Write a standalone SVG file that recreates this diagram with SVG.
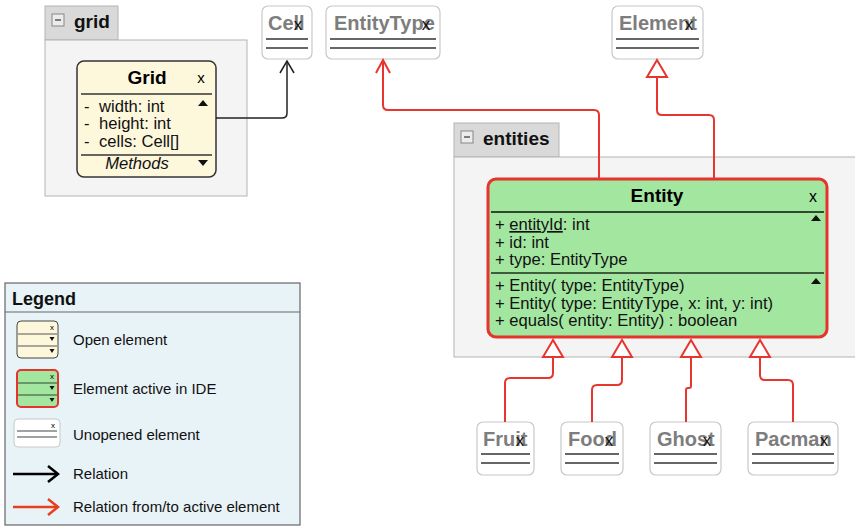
<svg xmlns="http://www.w3.org/2000/svg" width="855" height="526" viewBox="0 0 855 526">
<style>
text{font-family:"Liberation Sans",Arial,sans-serif;}
.pkg{fill:#f4f4f4;stroke:#b4b4b4;stroke-width:1;}
.tab{fill:#d9d9d9;stroke:#b4b4b4;stroke-width:1;}
.tabtxt{font-size:19px;font-weight:bold;fill:#111;}
.minus{fill:#ececec;stroke:#888;stroke-width:1;}
.un{fill:#fff;stroke:#c8c8c8;stroke-width:1.2;}
.unl{stroke:#333;stroke-width:1.5;}
.unt{font-size:20px;font-weight:bold;fill:#7d7d7d;}
.ux{font-size:17px;fill:#111;text-anchor:middle;}
.mem{font-size:16.6px;fill:#111;}
.red{fill:none;stroke:#e8352e;stroke-width:2;}
.blk{fill:none;stroke:#222;stroke-width:1.5;}
.leg{font-size:15px;fill:#111;}
.tri{fill:#111;}
</style>
<defs>
<marker id="openB" viewBox="0 0 14 16" refX="13" refY="8" markerWidth="14" markerHeight="16" markerUnits="userSpaceOnUse" orient="auto">
<path d="M1 1 L13 8 L1 15" fill="none" stroke="#222" stroke-width="1.5"/>
</marker>
<marker id="openR" viewBox="0 0 16 16" refX="14" refY="8" markerWidth="16" markerHeight="16" markerUnits="userSpaceOnUse" orient="auto">
<path d="M1 1 L14 8 L1 15" fill="none" stroke="#e8352e" stroke-width="2"/>
</marker>
</defs>

<!-- package grid -->
<g id="pkg-grid">
<rect class="tab" x="45" y="6" width="73" height="34"/>
<rect class="pkg" x="45" y="40" width="202" height="156"/>
<rect class="minus" x="52" y="14" width="12" height="12"/>
<line x1="55" y1="20" x2="61" y2="20" stroke="#333" stroke-width="1.2"/>
<text class="tabtxt" x="74" y="28">grid</text>
</g>

<!-- package entities -->
<g id="pkg-entities">
<rect class="tab" x="454" y="123" width="105" height="34"/>
<rect class="pkg" x="454" y="157" width="410" height="200"/>
<rect class="minus" x="461" y="131" width="12" height="12"/>
<line x1="464" y1="137" x2="470" y2="137" stroke="#333" stroke-width="1.2"/>
<text class="tabtxt" x="483" y="145">entities</text>
</g>

<!-- Grid class -->
<g id="Grid">
<rect x="77" y="61" width="139" height="116" rx="7" fill="#fdf8dc" stroke="#333" stroke-width="1.5"/>
<text x="147" y="84" font-size="19" font-weight="bold" text-anchor="middle">Grid</text>
<text x="201" y="83" font-size="15" text-anchor="middle">x</text>
<line x1="81" y1="94" x2="212" y2="94" stroke="#333" stroke-width="1.5"/>
<text class="mem" x="84" y="112">-</text><text class="mem" x="99" y="112">width: int</text>
<text class="mem" x="84" y="129">-</text><text class="mem" x="99" y="129">height: int</text>
<text class="mem" x="84" y="147">-</text><text class="mem" x="99" y="147">cells: Cell[]</text>
<path class="tri" d="M198 106 L208 106 L203 100 Z"/>
<line x1="81" y1="155" x2="212" y2="155" stroke="#333" stroke-width="1.5"/>
<text class="mem" x="137" y="169" font-style="italic" text-anchor="middle">Methods</text>
<path class="tri" d="M198 160 L208 160 L203 166 Z"/>
</g>

<!-- Unopened elements -->
<g id="Cell">
<rect class="un" x="262" y="6" width="50" height="53" rx="6"/>
<text class="unt" x="268" y="30">Cell</text>
<text class="ux" x="298" y="30">x</text>
<line class="unl" x1="266" y1="39" x2="308" y2="39"/>
<line class="unl" x1="266" y1="48" x2="308" y2="48"/>
</g>
<g id="EntityType">
<rect class="un" x="326" y="6" width="114" height="53" rx="6"/>
<text class="unt" x="334" y="30">EntityType</text>
<text class="ux" x="426" y="30">x</text>
<line class="unl" x1="330" y1="39" x2="436" y2="39"/>
<line class="unl" x1="330" y1="48" x2="436" y2="48"/>
</g>
<g id="Element">
<rect class="un" x="612" y="6" width="91" height="53" rx="6"/>
<text class="unt" x="619" y="30">Element</text>
<text class="ux" x="689" y="30">x</text>
<line class="unl" x1="616" y1="39" x2="699" y2="39"/>
<line class="unl" x1="616" y1="48" x2="699" y2="48"/>
</g>
<g id="Fruit">
<rect class="un" x="477" y="422" width="57" height="53" rx="6"/>
<text class="unt" x="483" y="446">Fruit</text>
<text class="ux" x="520" y="446">x</text>
<line class="unl" x1="481" y1="454" x2="530" y2="454"/>
<line class="unl" x1="481" y1="463" x2="530" y2="463"/>
</g>
<g id="Food">
<rect class="un" x="561" y="422" width="62" height="53" rx="6"/>
<text class="unt" x="568" y="446">Food</text>
<text class="ux" x="609" y="446">x</text>
<line class="unl" x1="565" y1="454" x2="619" y2="454"/>
<line class="unl" x1="565" y1="463" x2="619" y2="463"/>
</g>
<g id="Ghost">
<rect class="un" x="650" y="422" width="71" height="53" rx="6"/>
<text class="unt" x="657" y="446">Ghost</text>
<text class="ux" x="707" y="446">x</text>
<line class="unl" x1="654" y1="454" x2="717" y2="454"/>
<line class="unl" x1="654" y1="463" x2="717" y2="463"/>
</g>
<g id="Pacman">
<rect class="un" x="748" y="422" width="90" height="53" rx="6"/>
<text class="unt" x="755" y="446">Pacman</text>
<text class="ux" x="824" y="446">x</text>
<line class="unl" x1="752" y1="454" x2="834" y2="454"/>
<line class="unl" x1="752" y1="463" x2="834" y2="463"/>
</g>

<!-- Entity class -->
<g id="Entity">
<rect x="488" y="179" width="339" height="158" rx="8" fill="#a3e6a0" stroke="#e5332d" stroke-width="3"/>
<text x="657" y="202" font-size="19" font-weight="bold" text-anchor="middle">Entity</text>
<text x="813" y="202" font-size="16" text-anchor="middle">x</text>
<line x1="491" y1="212" x2="824" y2="212" stroke="#2f4a2f" stroke-width="2"/>
<text class="mem" x="495" y="230">+ <tspan text-decoration="underline">entityId</tspan>: int</text>
<text class="mem" x="495" y="247.5">+ id: int</text>
<text class="mem" x="495" y="265">+ type: EntityType</text>
<path class="tri" d="M811 221 L821 221 L816 215 Z"/>
<line x1="491" y1="273" x2="824" y2="273" stroke="#1e2e1e" stroke-width="1.5"/>
<text class="mem" x="495" y="291">+ Entity( type: EntityType)</text>
<text class="mem" x="495" y="308.5">+ Entity( type: EntityType, x: int, y: int)</text>
<text class="mem" x="495" y="326">+ equals( entity: Entity) : boolean</text>
<path class="tri" d="M811 284 L821 284 L816 278 Z"/>
</g>

<!-- Connectors -->
<g id="connectors">
<path class="blk" d="M216 118 H282 Q287 118 287 113 V61" marker-end="url(#openB)"/>
<path class="red" d="M599 178 V115 Q599 110 594 110 H388 Q383 110 383 105 V60" marker-end="url(#openR)"/>
<path class="red" d="M714 178 V120 Q714 115 709 115 H662 Q657 115 657 110 V77"/>
<path d="M657 60 L647 77 L667 77 Z" fill="#fff" stroke="#e8352e" stroke-width="2"/>
<path class="red" d="M553 357 V373 Q553 378 548 378 H510 Q505 378 505 383 V422"/>
<path d="M553 340 L543 357 L563 357 Z" fill="#fff" stroke="#e8352e" stroke-width="2"/>
<path class="red" d="M622 357 V380 Q622 385 617 385 H597 Q592 385 592 390 V422"/>
<path d="M622 340 L612 357 L632 357 Z" fill="#fff" stroke="#e8352e" stroke-width="2"/>
<path class="red" d="M691 357 V386 Q691 388 689 388 H688 Q686 388 686 390 V422"/>
<path d="M691 340 L681 357 L701 357 Z" fill="#fff" stroke="#e8352e" stroke-width="2"/>
<path class="red" d="M760 357 V375 Q760 380 765 380 H788 Q793 380 793 385 V422"/>
<path d="M760 340 L750 357 L770 357 Z" fill="#fff" stroke="#e8352e" stroke-width="2"/>
</g>

<!-- Legend -->
<g id="legend">
<rect x="5" y="283" width="295" height="242" fill="#e8f3f8" stroke="#666" stroke-width="1.2"/>
<text x="12" y="305" font-size="18" font-weight="bold" fill="#111">Legend</text>
<line x1="5" y1="312" x2="300" y2="312" stroke="#666" stroke-width="1.2"/>

<rect x="17" y="321" width="41" height="37" rx="4" fill="#fdf8dc" stroke="#444" stroke-width="1"/>
<text x="52" y="330" font-size="8" text-anchor="middle">x</text>
<line x1="18" y1="334" x2="57" y2="334" stroke="#555" stroke-width="1"/>
<line x1="18" y1="346" x2="57" y2="346" stroke="#555" stroke-width="1"/>
<path class="tri" d="M49.5 337 L54.5 337 L52 341 Z"/>
<path class="tri" d="M49.5 349 L54.5 349 L52 353 Z"/>
<text class="leg" x="73" y="345">Open element</text>

<rect x="17" y="370" width="41" height="37" rx="4" fill="#a3e6a0" stroke="#e5332d" stroke-width="2"/>
<text x="52" y="379" font-size="8" text-anchor="middle">x</text>
<line x1="18" y1="383" x2="57" y2="383" stroke="#2f4a2f" stroke-width="1"/>
<line x1="18" y1="395" x2="57" y2="395" stroke="#2f4a2f" stroke-width="1"/>
<path class="tri" d="M49.5 386 L54.5 386 L52 390 Z"/>
<path class="tri" d="M49.5 398 L54.5 398 L52 402 Z"/>
<text class="leg" x="73" y="394">Element active in IDE</text>

<rect x="14" y="419" width="46" height="28" rx="4" fill="#fff" stroke="#c8c8c8" stroke-width="1"/>
<text x="53" y="428" font-size="8" text-anchor="middle">x</text>
<line x1="17" y1="431" x2="57" y2="431" stroke="#444" stroke-width="1"/>
<line x1="17" y1="437" x2="57" y2="437" stroke="#444" stroke-width="1"/>
<text class="leg" x="73" y="440">Unopened element</text>

<line x1="13" y1="474" x2="58" y2="474" stroke="#000" stroke-width="2.5"/>
<path d="M48 466 L58 474 L48 482" fill="none" stroke="#000" stroke-width="2.5"/>
<text class="leg" x="73" y="479">Relation</text>

<line x1="13" y1="507" x2="58" y2="507" stroke="#e8401e" stroke-width="2.5"/>
<path d="M48 499 L58 507 L48 515" fill="none" stroke="#e8401e" stroke-width="2.5"/>
<text class="leg" x="73" y="512">Relation from/to active element</text>
</g>
</svg>
